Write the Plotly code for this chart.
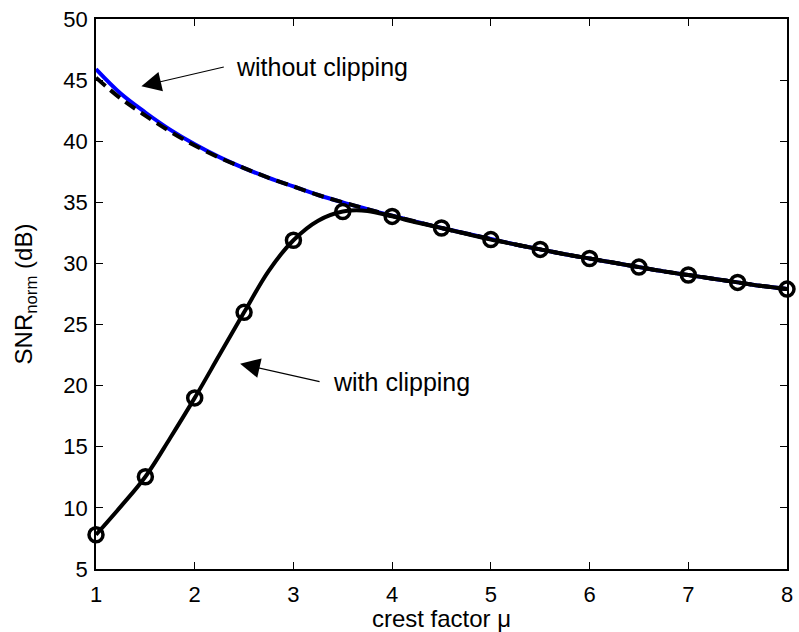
import plotly.graph_objects as go

# crest factor grid for the smooth curves (step 0.25)
mu_fine = [1.0, 1.25, 1.5, 1.75, 2.0, 2.25, 2.5, 2.75, 3.0, 3.25, 3.5, 3.75, 4.0,
           4.25, 4.5, 4.75, 5.0, 5.25, 5.5, 5.75, 6.0, 6.25, 6.5, 6.75, 7.0,
           7.25, 7.5, 7.75, 8.0]

# SNR_norm without clipping (ideal quantiser), solid blue
snr_ideal = [45.9, 43.9, 42.35, 40.95, 39.75, 38.7, 37.8, 37.0, 36.3, 35.6, 35.0,
             34.45, 33.9, 33.4, 32.9, 32.45, 32.0, 31.55, 31.15, 30.75, 30.4,
             30.05, 29.7, 29.35, 29.05, 28.75, 28.45, 28.15, 27.9]

# SNR_norm without clipping (simulated), dashed black
snr_sim = [45.2, 43.5, 42.1, 40.8, 39.65, 38.65, 37.8, 37.0, 36.3, 35.6, 35.0,
           34.45, 33.9, 33.4, 32.9, 32.45, 32.0, 31.55, 31.15, 30.75, 30.4,
           30.05, 29.7, 29.35, 29.05, 28.75, 28.45, 28.15, 27.9]

# SNR_norm with clipping, solid black
snr_clip = [7.8, 10.1, 12.55, 15.7, 19.0, 22.5, 26.0, 29.4, 31.9, 33.5, 34.25,
            34.3, 33.85, 33.35, 32.9, 32.42, 31.95, 31.55, 31.15, 30.75, 30.4,
            30.05, 29.7, 29.35, 29.05, 28.75, 28.45, 28.15, 27.9]

# simulated points with clipping (circles)
mu_pts = [1.0, 1.5, 2.0, 2.5, 3.0, 3.5, 4.0, 4.5, 5.0, 5.5, 6.0, 6.5, 7.0, 7.5, 8.0]
snr_pts = [7.8, 12.55, 19.0, 26.0, 31.9, 34.25, 33.85, 32.9, 31.95, 31.15,
           30.4, 29.7, 29.05, 28.45, 27.9]

x_ticks = [1, 2, 3, 4, 5, 6, 7, 8]
y_ticks = [5, 10, 15, 20, 25, 30, 35, 40, 45, 50]

FONT = "Liberation Sans, Arial, Helvetica, sans-serif"

fig = go.Figure()
fig.add_trace(go.Scatter(x=mu_fine, y=snr_ideal, mode="lines",
                         line=dict(color="#0000ff", width=4, shape="spline"),
                         showlegend=False))
fig.add_trace(go.Scatter(x=mu_fine, y=snr_sim, mode="lines",
                         line=dict(color="black", width=4, dash="12px,7px",
                                   shape="spline"),
                         showlegend=False))
fig.add_trace(go.Scatter(x=mu_fine, y=snr_clip, mode="lines",
                         line=dict(color="black", width=4, shape="spline"),
                         showlegend=False))
fig.add_trace(go.Scatter(x=mu_pts, y=snr_pts, mode="markers",
                         marker=dict(symbol="circle-open", size=14, color="black",
                                     line=dict(width=3.5, color="black")),
                         cliponaxis=False, showlegend=False))

axis_common = dict(showline=True, linecolor="black", linewidth=1.5, mirror="allticks",
                   ticks="inside", ticklen=7, tickwidth=1, tickcolor="black",
                   showgrid=False, zeroline=False,
                   tickfont=dict(family=FONT, size=22, color="black"))

fig.update_xaxes(range=[1, 8], tickvals=x_ticks, ticklabelstandoff=5, **axis_common,
                 title=dict(text="crest factor \u03bc", standoff=2,
                            font=dict(family=FONT, size=24, color="black")))
fig.update_yaxes(range=[5, 50], tickvals=y_ticks, ticklabelstandoff=2, **axis_common,
                 title=dict(text="SNR<sub>norm</sub> (dB)", standoff=24,
                            font=dict(family=FONT, size=24, color="black")))

# annotations with thin arrows
arrows = [
    dict(tip=(1.46, 44.5), tail=(2.31, 46.1), label="without clipping", pos=(2.40, 46.05)),
    dict(tip=(2.46, 21.8), tail=(3.28, 20.3), label="with clipping", pos=(3.385, 20.3)),
]
for a in arrows:
    fig.add_annotation(x=a["tip"][0], y=a["tip"][1], ax=a["tail"][0], ay=a["tail"][1],
                       xref="x", yref="y", axref="x", ayref="y", text="",
                       showarrow=True, arrowhead=2, arrowsize=3.6, arrowwidth=1.1,
                       arrowcolor="black")
    fig.add_annotation(x=a["pos"][0], y=a["pos"][1], xref="x", yref="y",
                       text=a["label"], showarrow=False, xanchor="left", yanchor="middle",
                       font=dict(family=FONT, size=25, color="black"))

fig.update_layout(width=799, height=632, paper_bgcolor="white", plot_bgcolor="white",
                  margin=dict(l=96, r=6, t=19, b=63))

fig.write_html("out.html")
